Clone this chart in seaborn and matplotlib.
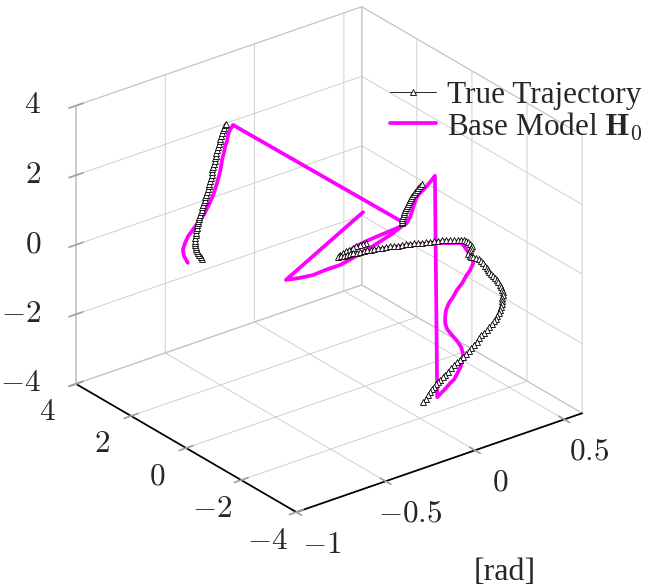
import matplotlib
matplotlib.use("Agg")
import matplotlib.pyplot as plt
from mpl_toolkits.mplot3d import proj3d
import seaborn as sns

# ---- true trajectory, three separate pieces (x = angle [rad], y, z) ----
true1_x = [-0.50, -0.50, -0.50, -0.50, -0.50, -0.50, -0.50, -0.50, -0.50, -0.50,
           -0.50, -0.50, -0.50, -0.50, -0.50, -0.50, -0.50, -0.50, -0.50, -0.50,
           -0.50, -0.50, -0.50, -0.50, -0.50, -0.50, -0.50, -0.50, -0.50, -0.50,
           -0.50, -0.50, -0.50, -0.50, -0.50, -0.50, -0.50, -0.50, -0.50, -0.50,
           -0.50, -0.50, -0.50, -0.50, -0.50, -0.50, -0.50, -0.50, -0.50, -0.50,
           -0.50, -0.50, -0.50, -0.50, -0.50]
true1_y = [2.67, 2.72, 2.78, 2.82, 2.85, 2.87, 2.89, 2.91, 2.92, 2.92,
           2.92, 2.90, 2.89, 2.87, 2.85, 2.83, 2.81, 2.80, 2.78, 2.76,
           2.74, 2.70, 2.67, 2.65, 2.63, 2.60, 2.56, 2.54, 2.52, 2.49,
           2.45, 2.43, 2.41, 2.38, 2.34, 2.32, 2.31, 2.29, 2.27, 2.24,
           2.20, 2.18, 2.16, 2.14, 2.12, 2.09, 2.05, 2.03, 2.01, 1.98,
           1.94, 1.91, 1.87, 1.84, 1.80]
true1_z = [-0.68, -0.65, -0.62, -0.58, -0.53, -0.49, -0.44, -0.39, -0.34, -0.27,
           -0.19, -0.11, -0.03, 0.05, 0.13, 0.21, 0.29, 0.36, 0.42, 0.49,
           0.55, 0.64, 0.73, 0.81, 0.89, 0.98, 1.07, 1.15, 1.23, 1.33,
           1.43, 1.52, 1.60, 1.70, 1.80, 1.90, 1.99, 2.07, 2.15, 2.26,
           2.36, 2.44, 2.52, 2.62, 2.71, 2.81, 2.91, 2.99, 3.07, 3.18,
           3.28, 3.37, 3.46, 3.54, 3.61]

true2_x = [0.20, 0.20, 0.20, 0.20, 0.20, 0.20, 0.20, 0.20, 0.20, 0.20,
           0.20, 0.20, 0.20, 0.20, 0.20, 0.20, 0.20, 0.20, 0.20, 0.20, 0.20]
true2_y = [-0.05, -0.05, -0.05, -0.07, -0.09, -0.11, -0.13, -0.17, -0.20, -0.24,
           -0.27, -0.31, -0.35, -0.39, -0.42, -0.48, -0.53, -0.59, -0.64, -0.71, -0.78]
true2_z = [0.36, 0.40, 0.45, 0.52, 0.58, 0.64, 0.71, 0.78, 0.86, 0.94,
           1.01, 1.08, 1.16, 1.24, 1.31, 1.39, 1.47, 1.56, 1.64, 1.73, 1.82]

true3_x = [0.30, 0.30, 0.30, 0.30, 0.30, 0.30, 0.30, 0.30, 0.30, 0.30,
           0.30, 0.30, 0.30, 0.30, 0.30, 0.30, 0.30, 0.30, 0.30, 0.30,
           0.30, 0.30, 0.30, 0.30, 0.30, 0.30, 0.30, 0.30, 0.30, 0.30,
           0.30, 0.30, 0.30, 0.30, 0.30, 0.30, 0.30, 0.30, 0.30, 0.30,
           0.30, 0.30, 0.30, 0.30, 0.30, 0.30, 0.30, 0.30, 0.30, 0.30,
           0.30, 0.30, 0.30, 0.30, 0.30, 0.30, 0.30, 0.30, 0.30, 0.30,
           0.30, 0.30, 0.30, 0.30, 0.30, 0.30, 0.30, 0.30, 0.30, 0.30,
           0.30, 0.30, 0.30, 0.30, 0.30, 0.30, 0.30, 0.30, 0.30,
           0.25,
           0.20, 0.20, 0.20, 0.20, 0.20, 0.20, 0.20, 0.20, 0.20, 0.20, 0.20,
           0.15,
           0.10, 0.10, 0.10, 0.10, 0.10, 0.10, 0.10, 0.10, 0.10,
           0.05,
           0.00, 0.00, 0.00, 0.00, 0.00, 0.00, 0.00, 0.00, 0.00]
true3_y = [1.91, 2.02, 2.12, 2.25, 2.38, 2.50, 2.63, 2.74, 2.85, 2.88,
           2.92, 2.82, 2.71, 2.60, 2.49, 2.36, 2.23, 2.10, 1.98, 1.85,
           1.72, 1.60, 1.47, 1.32, 1.18, 1.04, 0.89, 0.74, 0.60, 0.45,
           0.30, 0.16, 0.01, -0.14, -0.28, -0.42, -0.57, -0.72, -0.86, -1.00,
           -1.15, -1.30, -1.44, -1.55, -1.66, -1.74, -1.81, -1.88, -1.95, -1.92,
           -1.88, -1.84, -1.81, -1.86, -1.91, -2.00, -2.10, -2.19, -2.28, -2.35,
           -2.42, -2.48, -2.53, -2.58, -2.64, -2.72, -2.79, -2.84, -2.90, -2.96,
           -3.01, -3.04, -3.08, -3.06, -3.04, -3.04, -3.04, -3.00, -2.97,
           -3.24,
           -3.51, -3.46, -3.40, -3.31, -3.22, -3.13, -3.04, -2.94, -2.85, -2.76, -2.67,
           -2.90,
           -3.14, -3.03, -2.92, -2.81, -2.70, -2.60, -2.49, -2.38, -2.27,
           -2.50,
           -2.74, -2.66, -2.59, -2.52, -2.45, -2.38, -2.30, -2.21, -2.12]
true3_z = [-1.29, -1.37, -1.45, -1.55, -1.65, -1.76, -1.86, -1.96, -2.07, -2.12,
           -2.16, -2.10, -2.04, -1.96, -1.88, -1.80, -1.73, -1.64, -1.56, -1.48,
           -1.41, -1.32, -1.24, -1.16, -1.07, -0.99, -0.91, -0.83, -0.75, -0.66,
           -0.58, -0.50, -0.42, -0.34, -0.26, -0.18, -0.10, -0.02, 0.07, 0.14,
           0.20, 0.26, 0.33, 0.38, 0.43, 0.44, 0.44, 0.42, 0.40, 0.32,
           0.25, 0.18, 0.10, 0.08, 0.06, 0.09, 0.12, 0.12, 0.11, 0.08,
           0.04, 0.00, -0.03, -0.06, -0.09, -0.12, -0.14, -0.17, -0.20, -0.25,
           -0.30, -0.36, -0.41, -0.50, -0.60, -0.68, -0.77, -0.88, -0.98,
           -0.85,
           -0.72, -0.82, -0.92, -1.04, -1.17, -1.30, -1.43, -1.54, -1.66, -1.80, -1.94,
           -1.83,
           -1.72, -1.86, -1.99, -2.12, -2.24, -2.38, -2.51, -2.66, -2.81,
           -2.68,
           -2.56, -2.66, -2.75, -2.86, -2.96, -3.08, -3.20, -3.34, -3.48]

# ---- base model H0 prediction (one continuous line) ----
base_x = [-0.50, -0.50, -0.50, -0.50, -0.50, -0.50, -0.50, -0.50, -0.50, -0.50,
          -0.50, -0.50, -0.50, -0.50, -0.50, -0.50, -0.50, -0.50, -0.50, -0.50,
          -0.50, -0.50, -0.50,
          0.20, 0.20, 0.20, 0.20, 0.20, 0.20, 0.20, 0.20, 0.20, 0.20, 0.20,
          0.10, 0.10, 0.10, 0.10, 0.10, 0.10, 0.10, 0.10, 0.10, 0.10,
          0.10, 0.10, 0.10, 0.10, 0.10, 0.10, 0.10,
          0.30, 0.30, 0.30, 0.30, 0.30, 0.30, 0.30, 0.30, 0.30, 0.30,
          0.30, 0.30, 0.30, 0.30, 0.30, 0.30, 0.30, 0.30, 0.30, 0.30,
          0.10, 0.10, 0.10, 0.10, 0.10, 0.10, 0.10, 0.10, 0.10, 0.10,
          0.10, 0.10, 0.10, 0.10, 0.10, 0.10]
base_y = [3.18, 3.32, 3.36, 3.29, 3.18, 3.03, 2.89, 2.74, 2.60, 2.49,
          2.38, 2.27, 2.20, 2.12, 2.05, 1.98, 1.94, 1.87, 1.83, 1.76,
          1.72, 1.65, 1.54,
          -0.20, -0.27, -0.35, -0.42, -0.49, -0.56, -0.67, -0.82, -0.96, -1.11, -1.25,
          -1.98, -2.16, -2.30, -2.45, -2.60, -2.70, -2.81, -2.89, -2.92, -2.85,
          -2.70, -2.52, -2.34, -2.27, -2.27, -2.30, -2.41,
          -1.26, -1.40, -1.59, -1.73, -1.88, -1.99, -1.95, -1.80, -1.66, -1.55,
          -1.15, -0.68, -0.17, 0.30, 0.78, 1.29, 1.76, 2.23, 2.67, 2.89,
          1.30, 0.93, 0.57, 0.17, -0.27, -0.70, -0.34, 0.10, 0.57, 1.08,
          1.55, 2.06, 2.53, 3.04, 3.51, 0.71]
base_z = [-1.03, -0.90, -0.74, -0.53, -0.28, -0.04, 0.17, 0.41, 0.62, 0.84,
          1.07, 1.32, 1.52, 1.76, 1.99, 2.26, 2.50, 2.74, 2.93, 3.13,
          3.32, 3.50, 3.69,
          0.40, 0.52, 0.67, 0.88, 1.08, 1.29, 1.48, 1.66, 1.85, 2.06, 2.27,
          -3.58, -3.35, -3.17, -2.96, -2.78, -2.58, -2.36, -2.13, -1.91, -1.74,
          -1.63, -1.55, -1.46, -1.32, -1.14, -0.93, -0.67,
          -1.39, -1.12, -0.84, -0.57, -0.33, -0.08, 0.08, 0.16, 0.26, 0.30,
          0.11, -0.10, -0.37, -0.61, -0.89, -1.18, -1.48, -1.79, -2.08, -2.21,
          -0.92, -0.57, -0.26, 0.06, 0.41, 0.75, 0.36, -0.07, -0.52, -0.99,
          -1.41, -1.78, -2.15, -2.47, -2.74, 0.50]

x_ticks = [-1, -0.5, 0, 0.5]
x_ticklabels = ["$-1$", "$-0.5$", "$0$", "$0.5$"]
yz_ticks = [-4, -2, 0, 2, 4]
yz_ticklabels = ["$-4$", "$-2$", "$0$", "$2$", "$4$"]

sns.set_theme(style="white")
plt.rcParams["font.family"] = ["Liberation Serif", "DejaVu Serif"]
plt.rcParams["mathtext.fontset"] = "cm"
plt.rcParams["grid.color"] = "#c8c8c8"
plt.rcParams["grid.linewidth"] = 0.6

fig = plt.figure(figsize=(6.65, 5.87), dpi=100)
side = 580.4
ax = fig.add_axes([31 / 665, 29.5 / 587, side / 665, side / 587],
                  projection="3d", computed_zorder=False)
ax.set_proj_type("ortho")
ax.view_init(elev=26.67, azim=-127.64)
ax.set_box_aspect((1, 1, 0.8625))

ax.plot(base_x, base_y, base_z, color="#ff00ff", lw=2.7, zorder=2,
        label=r"Base Model $\mathbf{H}_0$")
for i, (xs, ys, zs) in enumerate([(true1_x, true1_y, true1_z),
                                  (true2_x, true2_y, true2_z),
                                  (true3_x, true3_y, true3_z)]):
    ax.plot(xs, ys, zs, color="black", lw=0.6, marker="^", ms=4,
            mfc="white", mec="black", mew=0.6, zorder=3,
            label="True Trajectory" if i == 0 else None)

ax.set_xlim(-1, 0.6)
ax.set_ylim(-4, 4)
ax.set_zlim(-4, 4)
ax.set_xticks(x_ticks)
ax.set_yticks(yz_ticks)
ax.set_zticks(yz_ticks)
# the automatic 3d tick labels sit in the wrong place; switch them off and
# draw them by hand below
for axis in (ax.xaxis, ax.yaxis, ax.zaxis):
    axis.set_tick_params(color="#a0a0a0", label1On=False, label2On=False)
    axis.label.set_visible(False)
    axis.offsetText.set_visible(False)

for axis in (ax.xaxis, ax.yaxis, ax.zaxis):
    axis.set_pane_color((1, 1, 1, 1))
    axis.pane.set_edgecolor("#c8c8c8")
    axis.pane.set_linewidth(0.8)
    axis._axinfo["grid"]["color"] = "#c8c8c8"
    axis._axinfo["grid"]["linewidth"] = 0.6
    axis._axinfo["tick"]["inward_factor"] = 0.3
    axis._axinfo["tick"]["outward_factor"] = 0.3
ax.xaxis.line.set_color("black")
ax.yaxis.line.set_color("black")
ax.zaxis.line.set_color("#c8c8c8")

# tick labels placed like the pgfplots original: project the tick point with the
# axes' own 3d projection, then shift by a few pixels
tick_fs = 22.5
M = ax.get_proj()


def tick_label(x, y, z, text, dx, dy, ha):
    px, py, _ = proj3d.proj_transform(x, y, z, M)
    ax.annotate(text, xy=(px, py), xycoords="data", xytext=(dx, dy),
                textcoords="offset pixels", ha=ha, va="center",
                fontsize=tick_fs, annotation_clip=False)


for v, s in zip(x_ticks, x_ticklabels):
    tick_label(v, -4, -4, s, 25, -33, "center")
for v, s in zip(yz_ticks, yz_ticklabels):
    tick_label(-1, v, -4, s, -29, -29, "center")
    tick_label(-1, 4, v, s, -35, 0, "right")

fig.text(505 / 665, 1 - 572 / 587, "[rad]", ha="center", va="center", fontsize=23)

handles, labels = ax.get_legend_handles_labels()
fig.legend(handles[::-1], labels[::-1], loc="upper left",
           bbox_to_anchor=(390 / 665, 1 - 81 / 587), frameon=False, fontsize=22.5,
           handlelength=1.48, handletextpad=0.33, borderpad=0, borderaxespad=0,
           labelspacing=0.0)

fig.savefig("out.png", dpi=100)
